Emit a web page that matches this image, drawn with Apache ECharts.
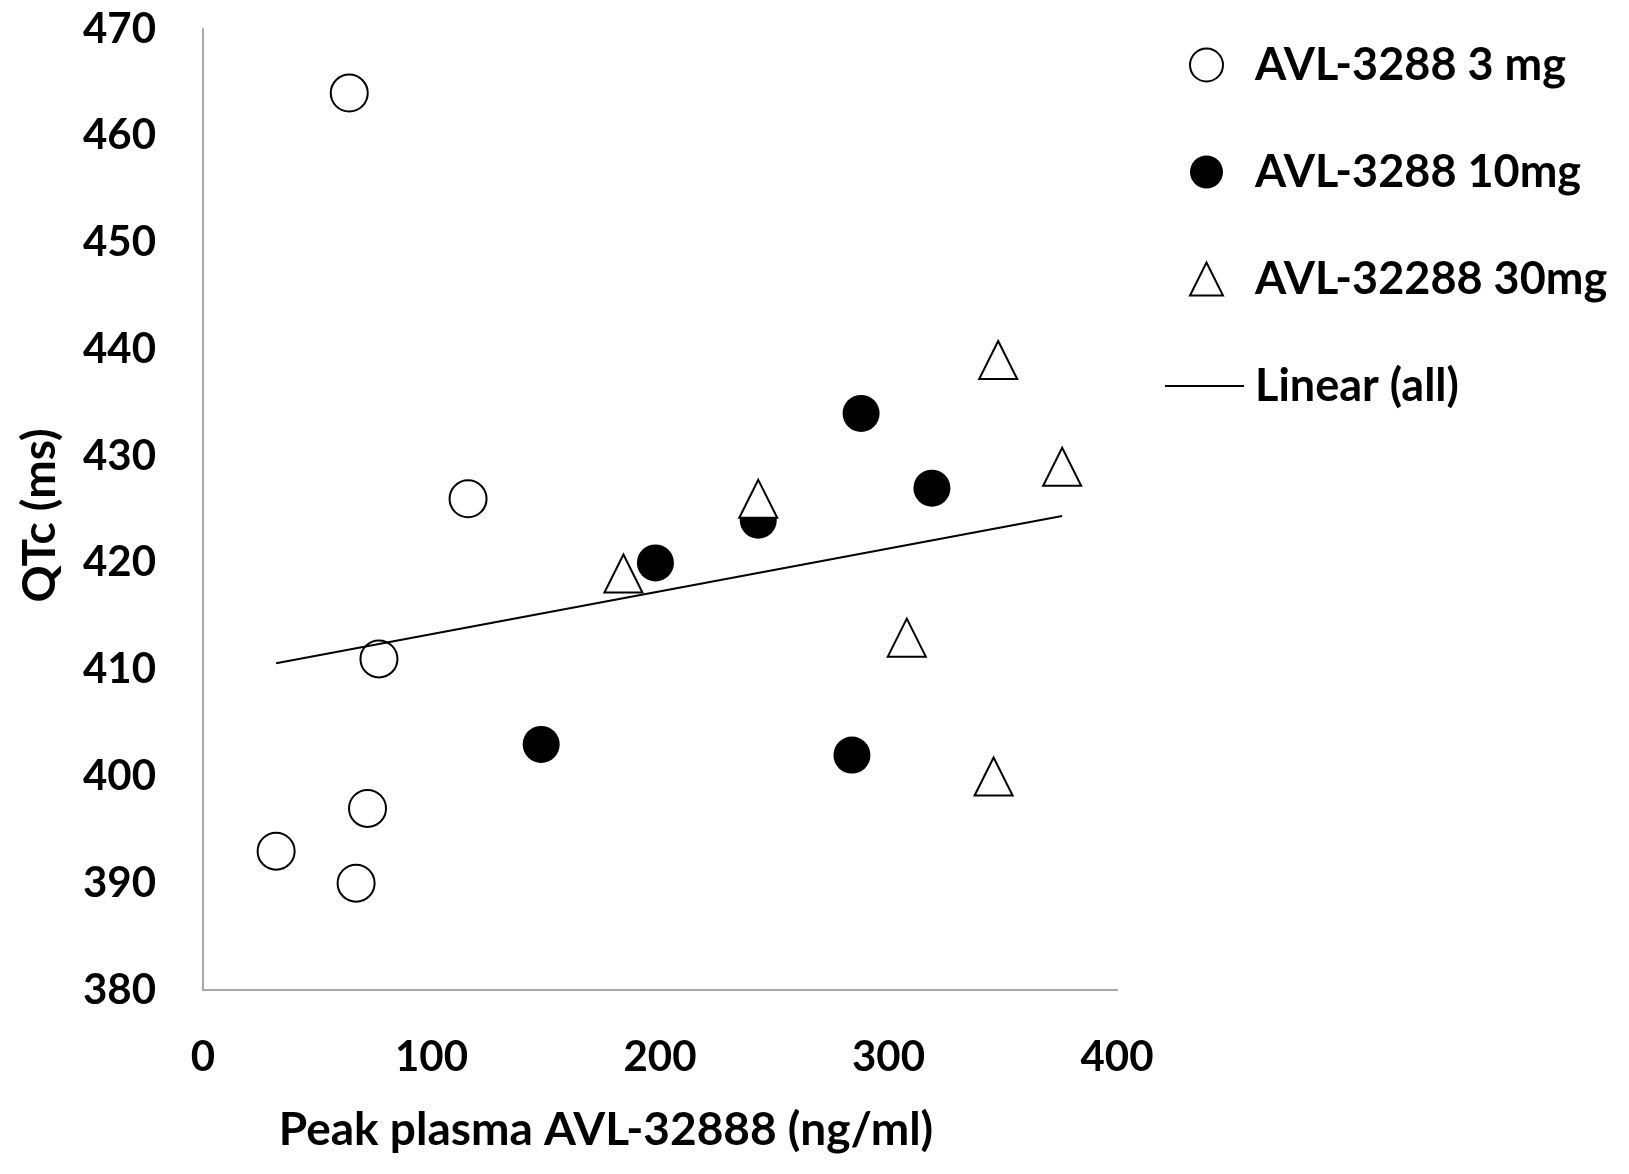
<!DOCTYPE html>
<html>
<head>
<meta charset="utf-8">
<script src="https://cdn.jsdelivr.net/npm/echarts@6/dist/echarts.min.js"></script>
<style>
html,body{margin:0;padding:0;background:#fff;}
#chart{width:1629px;height:1174px;}
</style>
</head>
<body>
<div id="chart"></div>
<script>
// Data
const seriesNames = ['AVL-3288 3 mg', 'AVL-3288 10mg', 'AVL-32288 30mg', 'Linear (all)'];
const dose3mg = [[64, 464], [116, 426], [77, 411], [72, 397], [32, 393], [67, 390]];
const dose10mg = [[288, 434], [319, 427], [243, 424], [198, 420], [148, 403], [284, 402]];
const dose30mg = [[348, 439], [376, 429], [243, 426], [184, 419], [308, 413], [346, 400]];
const trendLine = [[32, 410.6], [376, 424.4]];
const xTicks = [0, 100, 200, 300, 400];
const yTicks = [380, 390, 400, 410, 420, 430, 440, 450, 460, 470];

const FONT = 'Lato';
const chart = echarts.init(document.getElementById('chart'), null, {renderer: 'canvas'});
const axisLineStyle = {color: '#a6a6a6', width: 2};
const labelStyle = {color: '#000', fontFamily: FONT, fontWeight: 'bold', fontSize: 42};
const titleStyle = {color: '#000', fontFamily: FONT, fontWeight: 'bold', fontSize: 46};
const legendStyle = {color: '#000', fontFamily: FONT, fontWeight: 'bold', fontSize: 45, lineHeight: 50};

chart.setOption({
  animation: false,
  backgroundColor: '#fff',
  grid: {left: 203, top: 29, width: 914, height: 961, containLabel: false},
  xAxis: {
    type: 'value',
    min: xTicks[0], max: xTicks[xTicks.length - 1], interval: 100,
    name: 'Peak plasma AVL-32888 (ng/ml)',
    nameLocation: 'middle',
    nameGap: 117,
    nameTextStyle: Object.assign({}, titleStyle, {padding: [0, 108, 0, 0]}),
    axisLine: {show: true, lineStyle: axisLineStyle},
    axisTick: {show: false},
    splitLine: {show: false},
    axisLabel: Object.assign({}, labelStyle, {margin: 46})
  },
  yAxis: {
    type: 'value',
    min: yTicks[0], max: yTicks[yTicks.length - 1], interval: 10,
    name: 'QTc (ms)',
    nameLocation: 'middle',
    nameGap: 140,
    nameTextStyle: Object.assign({}, titleStyle, {padding: [0, 12, 0, 0]}),
    axisLine: {show: true, lineStyle: axisLineStyle},
    axisTick: {show: false},
    splitLine: {show: false},
    axisLabel: Object.assign({}, labelStyle, {margin: 47})
  },
  legend: [
    {
      data: [
        {name: seriesNames[0], icon: 'circle'},
        {name: seriesNames[1], icon: 'circle'},
        {name: seriesNames[2], icon: 'triangle'}
      ],
      orient: 'vertical',
      left: 1184, top: 35,
      itemWidth: 33, itemHeight: 33,
      itemGap: 57,
      selectedMode: false,
      textStyle: Object.assign({}, legendStyle, {padding: [0, 0, 0, 27]})
    },
    {
      data: [{name: seriesNames[3], icon: 'rect', itemStyle: {color: '#000', borderWidth: 0}}],
      orient: 'vertical',
      left: 1160, top: 356,
      itemWidth: 79, itemHeight: 2,
      selectedMode: false,
      textStyle: Object.assign({}, legendStyle, {padding: [0, 0, 0, 6]})
    }
  ],
  series: [
    {
      name: seriesNames[0], type: 'scatter', data: dose3mg,
      symbol: 'circle', symbolSize: 37,
      itemStyle: {color: '#fff', borderColor: '#000', borderWidth: 2, opacity: 1}
    },
    {
      name: seriesNames[1], type: 'scatter', data: dose10mg,
      symbol: 'circle', symbolSize: 37,
      itemStyle: {color: '#000', borderColor: '#000', borderWidth: 0, opacity: 1}
    },
    {
      name: seriesNames[2], type: 'scatter', data: dose30mg,
      symbol: 'triangle', symbolSize: 38,
      itemStyle: {color: '#fff', borderColor: '#000', borderWidth: 2, opacity: 1}
    },
    {
      name: seriesNames[3], type: 'line', data: trendLine,
      symbol: 'none', showSymbol: false,
      lineStyle: {color: '#000', width: 2},
      itemStyle: {color: '#000'}
    }
  ]
});
</script>
</body>
</html>
